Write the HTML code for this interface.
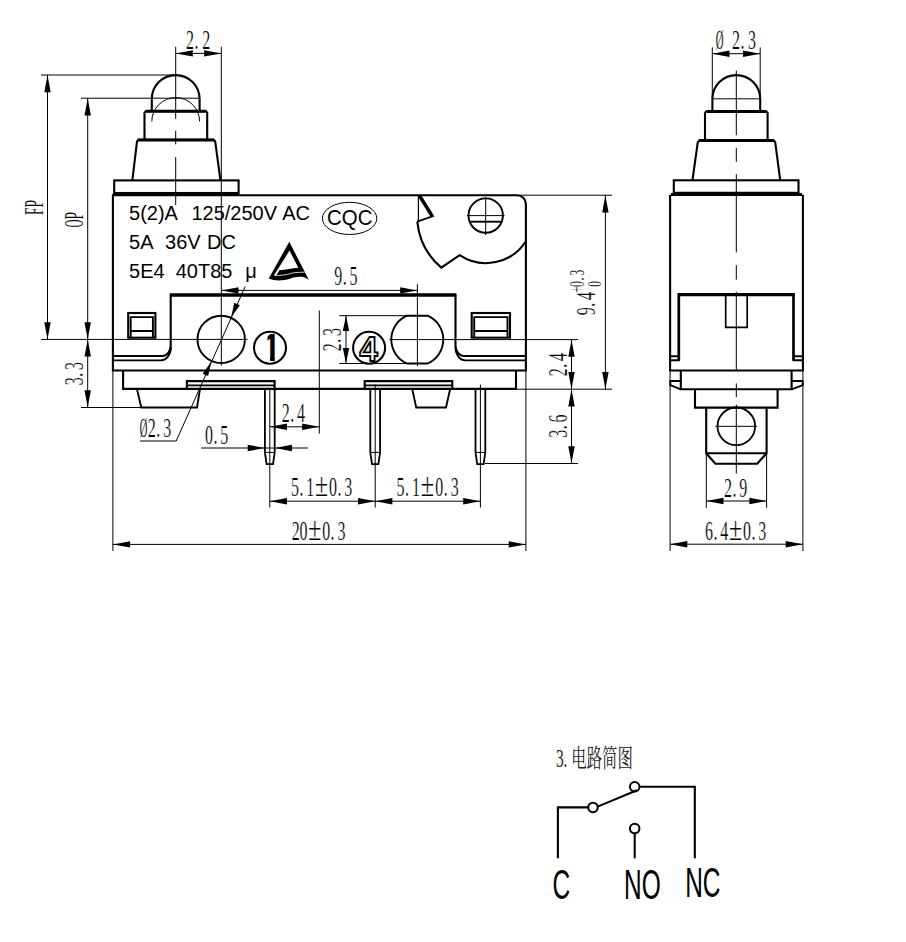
<!DOCTYPE html>
<html lang="zh">
<head>
<meta charset="utf-8">
<title>Micro switch drawing</title>
<style>
html,body{margin:0;padding:0;background:#fff;}
body{width:906px;height:942px;overflow:hidden;position:relative;}
svg{position:absolute;left:0;top:0;display:block;}
.g line,.g path,.g rect,.g circle,.g ellipse{stroke:#000;fill:none;}
.d{font-family:"Liberation Serif","Noto Serif CJK SC",serif;fill:#000;white-space:pre;stroke:#fff;stroke-width:0.18px;vector-effect:non-scaling-stroke;}
.s{font-family:"Liberation Sans","Noto Sans CJK SC",sans-serif;fill:#000;white-space:pre;}
.c{font-family:"Liberation Serif","Noto Serif CJK SC",serif;fill:#222;white-space:pre;}
</style>
</head>
<body>
<svg width="906" height="942" viewBox="0 0 906 942">
<rect x="0" y="0" width="906" height="942" fill="#fff"/>
<g class="g" stroke-linecap="butt" stroke-linejoin="miter">
<path d="M151.8,110.5 V99 A23.9,23.9 0 0 1 199.6,99 V110.5" stroke-width="2.1" />
<path d="M151.8,121.5 A23.9,23.9 0 0 1 199.6,121.5" stroke-width="1.0" />
<path d="M144.5,139.0 V112.6 L146,111.1 H205.7 L207.2,112.6 V139.0" stroke-width="2.1" />
<line x1="146" y1="111.3" x2="205.7" y2="111.3" stroke-width="3.0" />
<path d="M132.4,180 L137.0,141.4 L138.4,139.9 H213.8 L215.2,141.4 L220.4,180" stroke-width="2.1" />
<line x1="138.2" y1="140.0" x2="214" y2="140.0" stroke-width="3.0" />
<rect x="114.2" y="180.4" width="124.4" height="12.6" stroke-width="2.1"/>
<path d="M112.9,370.5 V195.2 H516.9 A9,9 0 0 1 525.9,204.2 V370.5 Z" stroke-width="2.1" />
<line x1="112.9" y1="194.6" x2="238.6" y2="194.6" stroke-width="3.0" />
<path d="M112.9,356.0 H162.5 A8.2,10.4 0 0 0 170.7,345.6 V294.9" stroke-width="2.1" />
<path d="M112.9,360.3 H161 A10,13 0 0 0 170.9,347" stroke-width="1.8" />
<line x1="169.8" y1="294.9" x2="456.4" y2="294.9" stroke-width="3.5" />
<path d="M455.5,294.9 V345.6 A8.2,10.4 0 0 0 463.7,356.0 H525.9" stroke-width="2.1" />
<path d="M455.3,347 A10,13 0 0 0 465.2,360.3 H525.9" stroke-width="1.8" />
<rect x="128.2" y="313.0" width="27.2" height="24.7" stroke-width="2.1"/>
<path d="M130.7,337.7 V317.1 H152.9 V337.7" stroke-width="1.9" />
<line x1="130.7" y1="331.0" x2="152.9" y2="331.0" stroke-width="2.0" />
<rect x="471.7" y="313.0" width="38.3" height="24.7" stroke-width="2.1"/>
<path d="M474.2,337.7 V317.1 H507.5 V337.7" stroke-width="1.9" />
<line x1="474.2" y1="331.0" x2="507.5" y2="331.0" stroke-width="2.0" />
<circle cx="221.2" cy="339.4" r="23.7" stroke-width="1.9"/>
<path d="M407.06,315.70000000000005 H427.54 A26.0,26.0 0 0 1 427.54,363.5 H407.06 A26.0,26.0 0 0 1 407.06,315.70000000000005 Z" stroke-width="1.9" />
<circle cx="270" cy="347.8" r="16.0" stroke-width="2.1"/>
<circle cx="369.1" cy="347.8" r="16.0" stroke-width="2.1"/>
<circle cx="485.7" cy="215.6" r="17.2" stroke-width="1.9"/>
<line x1="470.4" y1="221.7" x2="501" y2="221.7" stroke-width="1.9" />
<line x1="466.8" y1="215.6" x2="504.6" y2="215.6" stroke-width="1.0" />
<line x1="485.7" y1="197" x2="485.7" y2="235" stroke-width="1.0" />
<path d="M418.4,195.2 V221.7" stroke-width="1.2" />
<path d="M420.4,195.6 L433.1,216 L417.2,221.7" stroke-width="1.8" />
<line x1="419.2" y1="195.6" x2="432.3" y2="216.6" stroke-width="3.0" />
<path d="M417.3,221.7 A68.5,68.5 0 0 0 441.3,267.6 L459.6,255.2 A47.6,47.6 0 0 0 525.9,241.2" stroke-width="2.1" />
<path d="M123.1,370.5 V388.9 H516 V370.5" stroke-width="2.1" />
<path d="M136.9,388.9 L141.3,407.5 H197 L200,388.9" stroke-width="1.9" />
<path d="M412.2,388.9 L416.2,407.5 H446 L450.2,388.9" stroke-width="1.9" />
<path d="M186.9,388.9 V381.1 H274.6 V388.9" stroke-width="2.1" />
<line x1="186.9" y1="385.4" x2="274.6" y2="385.4" stroke-width="1.6" />
<path d="M364.7,388.9 V381.1 H452.3 V388.9" stroke-width="2.1" />
<line x1="364.7" y1="385.4" x2="452.3" y2="385.4" stroke-width="1.6" />
<path d="M264.90000000000003,388.9 V452.4 L266.6,464.2 H273.0 L274.7,452.4 V388.9" stroke-width="1.8" />
<line x1="264.90000000000003" y1="452.4" x2="274.7" y2="452.4" stroke-width="1.0" />
<path d="M370.3,388.9 V452.4 L372.0,464.2 H378.4 L380.09999999999997,452.4 V388.9" stroke-width="1.8" />
<line x1="370.3" y1="452.4" x2="380.09999999999997" y2="452.4" stroke-width="1.0" />
<path d="M475.5,388.9 V452.4 L477.2,464.2 H483.59999999999997 L485.29999999999995,452.4 V388.9" stroke-width="1.8" />
<line x1="475.5" y1="452.4" x2="485.29999999999995" y2="452.4" stroke-width="1.0" />
<line x1="175.7" y1="46.8" x2="175.7" y2="118.9" stroke-width="1.0" />
<line x1="175.7" y1="130.8" x2="175.7" y2="144.4" stroke-width="1.0" />
<line x1="175.7" y1="157.1" x2="175.7" y2="205" stroke-width="1.0" />
<line x1="221.3" y1="46.8" x2="221.3" y2="339.5" stroke-width="1.0" />
<line x1="175.7" y1="53.4" x2="221.3" y2="53.4" stroke-width="1.0" />
<polygon points="175.70,53.40 192.90,50.20 192.90,56.60" fill="#000" stroke="none"/>
<polygon points="221.30,53.40 204.10,56.60 204.10,50.20" fill="#000" stroke="none"/>
<line x1="41" y1="75" x2="175.7" y2="75" stroke-width="1.0" />
<line x1="47.5" y1="75" x2="47.5" y2="339.4" stroke-width="1.0" />
<polygon points="47.50,75.00 50.70,92.20 44.30,92.20" fill="#000" stroke="none"/>
<polygon points="47.50,339.40 44.30,322.20 50.70,322.20" fill="#000" stroke="none"/>
<line x1="81" y1="98.2" x2="199.6" y2="98.2" stroke-width="1.0" />
<line x1="87.7" y1="98.2" x2="87.7" y2="407.5" stroke-width="1.0" />
<polygon points="87.70,98.20 90.90,115.40 84.50,115.40" fill="#000" stroke="none"/>
<polygon points="87.70,339.40 84.50,322.20 90.90,322.20" fill="#000" stroke="none"/>
<polygon points="87.70,339.40 90.90,356.60 84.50,356.60" fill="#000" stroke="none"/>
<polygon points="87.70,407.50 84.50,390.30 90.90,390.30" fill="#000" stroke="none"/>
<line x1="41" y1="339.4" x2="247.5" y2="339.4" stroke-width="1.0" />
<line x1="389.3" y1="339.6" x2="578" y2="339.6" stroke-width="1.0" />
<line x1="81" y1="407.5" x2="141" y2="407.5" stroke-width="1.0" />
<line x1="221.3" y1="339" x2="221.3" y2="365.6" stroke-width="1.0" />
<line x1="245.2" y1="286.5" x2="176.2" y2="441" stroke-width="1.0" />
<line x1="140" y1="441" x2="176.2" y2="441" stroke-width="1.0" />
<polygon points="231.00,317.60 234.38,302.68 239.86,305.13" fill="#000" stroke="none"/>
<polygon points="211.50,361.20 208.12,376.12 202.64,373.67" fill="#000" stroke="none"/>
<line x1="221.3" y1="290.4" x2="417.4" y2="290.4" stroke-width="1.0" />
<polygon points="221.30,290.40 238.50,287.20 238.50,293.60" fill="#000" stroke="none"/>
<polygon points="417.40,290.40 400.20,293.60 400.20,287.20" fill="#000" stroke="none"/>
<line x1="417.4" y1="284.2" x2="417.4" y2="366" stroke-width="1.0" />
<line x1="319.3" y1="310.5" x2="319.3" y2="433.6" stroke-width="1.0" />
<line x1="339.3" y1="315.7" x2="408" y2="315.7" stroke-width="1.0" />
<line x1="339.3" y1="363.5" x2="408" y2="363.5" stroke-width="1.0" />
<line x1="346" y1="315.7" x2="346" y2="363.5" stroke-width="1.0" />
<polygon points="346.00,315.70 349.20,331.10 342.80,331.10" fill="#000" stroke="none"/>
<polygon points="346.00,363.50 342.80,348.10 349.20,348.10" fill="#000" stroke="none"/>
<line x1="269.8" y1="426.8" x2="319.3" y2="426.8" stroke-width="1.0" />
<polygon points="269.80,426.80 287.00,423.60 287.00,430.00" fill="#000" stroke="none"/>
<polygon points="319.30,426.80 302.10,430.00 302.10,423.60" fill="#000" stroke="none"/>
<line x1="201.2" y1="448" x2="308" y2="448" stroke-width="1.0" />
<polygon points="264.90,448.00 247.70,451.20 247.70,444.80" fill="#000" stroke="none"/>
<polygon points="274.70,448.00 291.90,444.80 291.90,451.20" fill="#000" stroke="none"/>
<line x1="269.8" y1="389" x2="269.8" y2="507.5" stroke-width="1.0" />
<line x1="375.2" y1="384.5" x2="375.2" y2="507.5" stroke-width="1.0" />
<line x1="480.4" y1="384.5" x2="480.4" y2="507.5" stroke-width="1.0" />
<line x1="269.8" y1="501.2" x2="480.4" y2="501.2" stroke-width="1.0" />
<polygon points="269.80,501.20 287.00,498.00 287.00,504.40" fill="#000" stroke="none"/>
<polygon points="375.20,501.20 358.00,504.40 358.00,498.00" fill="#000" stroke="none"/>
<polygon points="375.20,501.20 392.40,498.00 392.40,504.40" fill="#000" stroke="none"/>
<polygon points="480.40,501.20 463.20,504.40 463.20,498.00" fill="#000" stroke="none"/>
<line x1="112.9" y1="370" x2="112.9" y2="551" stroke-width="1.0" />
<line x1="525.9" y1="370" x2="525.9" y2="551" stroke-width="1.0" />
<line x1="112.9" y1="544.4" x2="525.9" y2="544.4" stroke-width="1.0" />
<polygon points="112.90,544.40 130.10,541.20 130.10,547.60" fill="#000" stroke="none"/>
<polygon points="525.90,544.40 508.70,547.60 508.70,541.20" fill="#000" stroke="none"/>
<line x1="518" y1="195.2" x2="612" y2="195.2" stroke-width="1.0" />
<line x1="516" y1="389.2" x2="612" y2="389.2" stroke-width="1.0" />
<line x1="605.4" y1="195.2" x2="605.4" y2="389.2" stroke-width="1.0" />
<polygon points="605.40,195.20 608.60,212.40 602.20,212.40" fill="#000" stroke="none"/>
<polygon points="605.40,389.20 602.20,372.00 608.60,372.00" fill="#000" stroke="none"/>
<line x1="571.5" y1="339.6" x2="571.5" y2="463.5" stroke-width="1.0" />
<polygon points="571.50,339.60 574.70,356.80 568.30,356.80" fill="#000" stroke="none"/>
<polygon points="571.50,389.20 568.30,372.00 574.70,372.00" fill="#000" stroke="none"/>
<polygon points="571.50,389.20 574.70,406.40 568.30,406.40" fill="#000" stroke="none"/>
<polygon points="571.50,463.50 568.30,446.30 574.70,446.30" fill="#000" stroke="none"/>
<line x1="485" y1="463.5" x2="578" y2="463.5" stroke-width="1.0" />
<path d="M712.4,110.5 V99 A23.9,23.9 0 0 1 760.1999999999999,99 V110.5" stroke-width="2.1" />
<line x1="712.4" y1="98.8" x2="760.1999999999999" y2="98.8" stroke-width="1.0" />
<path d="M705,139.5 V112.8 L706.5,111.3 H766.1 L767.6,112.8 V139.5" stroke-width="2.1" />
<line x1="706.5" y1="111.4" x2="766.1" y2="111.4" stroke-width="3.0" />
<path d="M692.5,180 L697.8,142.2 L699.2,140.6 H773.8 L775.2,142.2 L780.2,180" stroke-width="2.1" />
<line x1="699" y1="140.6" x2="774" y2="140.6" stroke-width="3.0" />
<rect x="673.8" y="180.3" width="124.7" height="12.5" stroke-width="2.1"/>
<line x1="671" y1="194.4" x2="802" y2="194.4" stroke-width="3.0" />
<path d="M670.1,194.8 V370.5 H802.9 V194.8" stroke-width="2.1" />
<path d="M678.8,360.3 V294.6 H793.5 V360.3" stroke-width="2.7" />
<line x1="677.9" y1="294.6" x2="794.4" y2="294.6" stroke-width="3.2" />
<path d="M670.1,356.2 H678.8 M670.1,360.3 H679.8 M793.5,356.2 H802.9 M792.5,360.3 H802.9" stroke-width="1.9" />
<path d="M725.7,294.6 V327.4 H747.2 V294.6" stroke-width="1.7" />
<path d="M680.8,370.5 V389.3 H791.6 V370.5" stroke-width="2.1" />
<path d="M680.8,381.0 H670.3 V385.2 L680.8,389.3" stroke-width="1.9" />
<path d="M791.6,381.0 H802.7 V385.2 L791.6,389.3" stroke-width="1.9" />
<path d="M695,389.2 V407.6 H777.6 V389.2" stroke-width="2.1" />
<path d="M706.2,407.6 V453.3 L715.4,463.7 H757.2 L766.6,453.3 V407.6" stroke-width="2.1" />
<line x1="706.2" y1="453.3" x2="766.6" y2="453.3" stroke-width="2.1" />
<circle cx="736.3" cy="426.3" r="18.8" stroke-width="1.8"/>
<line x1="715.3" y1="426.3" x2="757" y2="426.3" stroke-width="1.0" />
<line x1="736.3" y1="70.7" x2="736.3" y2="135.2" stroke-width="1.0" />
<line x1="736.3" y1="147.9" x2="736.3" y2="161.9" stroke-width="1.0" />
<line x1="736.3" y1="174.1" x2="736.3" y2="252.4" stroke-width="1.0" />
<line x1="736.3" y1="265.1" x2="736.3" y2="279.6" stroke-width="1.0" />
<line x1="736.3" y1="291.8" x2="736.3" y2="369.7" stroke-width="1.0" />
<line x1="736.3" y1="383.4" x2="736.3" y2="397.1" stroke-width="1.0" />
<line x1="736.3" y1="404.6" x2="736.3" y2="473.6" stroke-width="1.0" />
<line x1="712.3" y1="47.4" x2="712.3" y2="99" stroke-width="1.0" />
<line x1="760.2" y1="47.4" x2="760.2" y2="99" stroke-width="1.0" />
<line x1="712.3" y1="53.7" x2="760.2" y2="53.7" stroke-width="1.0" />
<polygon points="712.30,53.70 729.50,50.50 729.50,56.90" fill="#000" stroke="none"/>
<polygon points="760.20,53.70 743.00,56.90 743.00,50.50" fill="#000" stroke="none"/>
<line x1="706.3" y1="453" x2="706.3" y2="507.8" stroke-width="1.0" />
<line x1="766.6" y1="453" x2="766.6" y2="507.8" stroke-width="1.0" />
<line x1="706.3" y1="501" x2="766.6" y2="501" stroke-width="1.0" />
<polygon points="706.30,501.00 723.50,497.80 723.50,504.20" fill="#000" stroke="none"/>
<polygon points="766.60,501.00 749.40,504.20 749.40,497.80" fill="#000" stroke="none"/>
<line x1="670.1" y1="370" x2="670.1" y2="551" stroke-width="1.0" />
<line x1="802.9" y1="370" x2="802.9" y2="551" stroke-width="1.0" />
<line x1="670.1" y1="544.2" x2="802.9" y2="544.2" stroke-width="1.0" />
<polygon points="670.10,544.20 687.30,541.00 687.30,547.40" fill="#000" stroke="none"/>
<polygon points="802.90,544.20 785.70,547.40 785.70,541.00" fill="#000" stroke="none"/>
<path d="M557.9,858.3 V807.4 H588.2" stroke-width="2.1" />
<circle cx="593.0" cy="807.4" r="4.75" stroke-width="2.0"/>
<line x1="597.6" y1="806.6" x2="637.0" y2="790.3" stroke-width="2.1" />
<circle cx="634.7" cy="786.7" r="4.75" stroke-width="2.0"/>
<path d="M639.5,786.7 H694.8 V858.3" stroke-width="2.1" />
<circle cx="634.7" cy="828.6" r="4.75" stroke-width="2.0"/>
<line x1="634.7" y1="833.4" x2="634.7" y2="858.3" stroke-width="2.1" />
<ellipse cx="349.6" cy="218.4" rx="27.2" ry="16.1" stroke-width="1"/>
<path d="M289.3,241.8 L268.7,278.5 C275,281.2 283,280.8 289.8,278.7 C295,277.1 299,276.3 303,277.1 C305.5,277.7 307,278.7 308.8,279.8 Z" style="fill:#000;stroke:none"/>
<path d="M289.5,250.6 L298.3,267.8 C292,268.2 286,270.0 279.3,270.3 L276.5,274.9 L274.0,275.3 Z" style="fill:#fff;stroke:none"/>
<path d="M274.3,275.4 C280,275.6 286,275.0 289.5,273.8 C293,272.6 298,272.2 304.6,272.2" style="fill:none;stroke:#fff;stroke-width:0.8"/>
</g>
<g>
<text class="s" xml:space="preserve" transform="translate(129.1 219.6) scale(0.985 1)" x="0" y="0" font-size="20.3">5(2)A  <tspan dx="3.6">125/250V</tspan> <tspan dx="-0.4">AC</tspan></text>
<text class="s" xml:space="preserve" transform="translate(129.1 248.8) scale(0.985 1)" x="0" y="0" font-size="20.3">5A  <tspan dx="1.6">36V</tspan> <tspan dx="0.8">DC</tspan></text>
<text class="s" xml:space="preserve" transform="translate(129.1 278.0) scale(0.985 1)" x="0" y="0" font-size="20.3">5E4  <tspan dx="0">40T85</tspan>  <tspan dx="1.9">μ</tspan></text>
<text class="s" transform="translate(349.8 224.8) scale(0.925 1)" x="0" y="0" font-size="22.1" text-anchor="middle">CQC</text>
<clipPath id="c1"><rect x="5.70" y="-28.50" width="9.50" height="24.32"/><rect x="8.55" y="-4.56" width="5.70" height="4.94"/></clipPath>
<text class="s" transform="translate(262.79 361.2) scale(0.84 1)" x="0" y="0" font-size="38.0" clip-path="url(#c1)" style="font-weight:700;fill:#000">1</text>
<text class="s" transform="translate(368.6 360.8) scale(0.92 1)" x="0" y="0" font-size="35.6" text-anchor="middle" style="font-weight:700;fill:#fff;stroke:#000;stroke-width:1.9px">4</text>
<text class="d" xml:space="preserve" transform="translate(185.9 48.6) scale(0.57 1)" font-size="28.0" x="0.11 15.26 28.53" y="0">2.2</text>
<text class="d" xml:space="preserve" transform="translate(42.6 215.0) rotate(-90) scale(0.57 1)" font-size="28.0" x="0.0 13.33" y="0"><tspan textLength="13.33" lengthAdjust="spacingAndGlyphs">F</tspan><tspan textLength="13.33" lengthAdjust="spacingAndGlyphs">P</tspan></text>
<text class="d" xml:space="preserve" transform="translate(83.3 227.2) rotate(-90) scale(0.57 1)" font-size="28.0" x="0.0 13.33" y="0"><tspan textLength="13.33" lengthAdjust="spacingAndGlyphs">O</tspan><tspan textLength="13.33" lengthAdjust="spacingAndGlyphs">P</tspan></text>
<text class="d" xml:space="preserve" transform="translate(83.1 385.0) rotate(-90) scale(0.57 1)" font-size="28.0" x="-0.33 14.39 26.33" y="0">3.3</text>
<text class="d" xml:space="preserve" transform="translate(140.0 436.6) scale(0.57 1)" font-size="28.0" x="-0.35 13.53 28.42 40.89" y="0"><tspan font-size="26.9" textLength="13.27" lengthAdjust="spacingAndGlyphs">Ø</tspan>2.3</text>
<text class="d" xml:space="preserve" transform="translate(205.3 443.6) scale(0.57 1)" font-size="28.0" x="-0.33 14.39 26.33" y="0">0.5</text>
<text class="d" xml:space="preserve" transform="translate(282.0 422.4) scale(0.57 1)" font-size="28.0" x="-0.33 14.39 26.33" y="0">2.4</text>
<text class="d" xml:space="preserve" transform="translate(291.2 495.6) scale(0.57 1)" font-size="28.0" x="-0.33 14.39 26.33 41.67 66.33 81.05 93.0" y="0">5.1<tspan font-size="33.6" textLength="22.98" lengthAdjust="spacingAndGlyphs">±</tspan>0.3</text>
<text class="d" xml:space="preserve" transform="translate(396.6 495.8) scale(0.57 1)" font-size="28.0" x="-0.2 14.65 26.99 42.46 67.78 82.63 94.97" y="0">5.1<tspan font-size="33.6" textLength="23.44" lengthAdjust="spacingAndGlyphs">±</tspan>0.3</text>
<text class="d" xml:space="preserve" transform="translate(292.0 539.8) scale(0.57 1)" font-size="28.0" x="-0.33 13.0 28.33 53.0 67.72 79.67" y="0">20<tspan font-size="33.6" textLength="22.98" lengthAdjust="spacingAndGlyphs">±</tspan>0.3</text>
<text class="d" xml:space="preserve" transform="translate(334.5 285.2) scale(0.57 1)" font-size="28.0" x="-0.33 14.39 26.33" y="0">9.5</text>
<text class="d" xml:space="preserve" transform="translate(340.5 351.0) rotate(-90) scale(0.57 1)" font-size="28.0" x="-0.33 14.39 26.33" y="0">2.3</text>
<text class="d" xml:space="preserve" transform="translate(595.3 315.0) rotate(-90) scale(0.57 1)" font-size="28.0" x="-0.33 14.39 26.33" y="0">9.4</text>
<text class="d" xml:space="preserve" transform="translate(584.4 292.6) rotate(-90) scale(0.6 1)" font-size="20" x="0.0 9.25 20.0 28.25" y="0"><tspan textLength="9.50" lengthAdjust="spacingAndGlyphs">+</tspan>0.3</text>
<text class="d" xml:space="preserve" transform="translate(600.7 286.8) rotate(-90) scale(0.62 1)" font-size="18.5" x="-0.03" y="0">0</text>
<text class="d" xml:space="preserve" transform="translate(566.6 376.0) rotate(-90) scale(0.57 1)" font-size="28.0" x="-0.33 14.39 26.33" y="0">2.4</text>
<text class="d" xml:space="preserve" transform="translate(566.7 437.5) rotate(-90) scale(0.57 1)" font-size="28.0" x="-0.33 14.39 26.33" y="0">3.6</text>
<text class="d" xml:space="preserve" transform="translate(716.0 49.4) scale(0.57 1)" font-size="28.0" x="-0.35 14.04 28.09 43.16 56.16" y="0"><tspan font-size="26.9" textLength="13.61" lengthAdjust="spacingAndGlyphs">Ø</tspan> 2.3</text>
<text class="d" xml:space="preserve" transform="translate(724.2 496.8) scale(0.57 1)" font-size="28.0" x="-0.33 14.39 26.33" y="0">2.9</text>
<text class="d" xml:space="preserve" transform="translate(705.2 539.8) scale(0.57 1)" font-size="28.0" x="-0.33 14.39 26.33 41.67 66.33 81.05 93.0" y="0">6.4<tspan font-size="33.6" textLength="22.98" lengthAdjust="spacingAndGlyphs">±</tspan>0.3</text>
<text class="c" xml:space="preserve" transform="translate(555.9 767.2) scale(0.616 1)" x="0 12.5 25 50 75 100" y="0" font-size="25">3.电路简图</text>
<text class="s" transform="translate(552.5 899.4) scale(0.565 1)" x="0" y="0" font-size="43.3">C</text>
<text class="s" transform="translate(624.0 899.4) scale(0.565 1)" x="0" y="0" font-size="43.3">NO</text>
<text class="s" transform="translate(685.2 897.4) scale(0.565 1)" x="0" y="0" font-size="43.3">NC</text>
</g>
</svg>
</body>
</html>
